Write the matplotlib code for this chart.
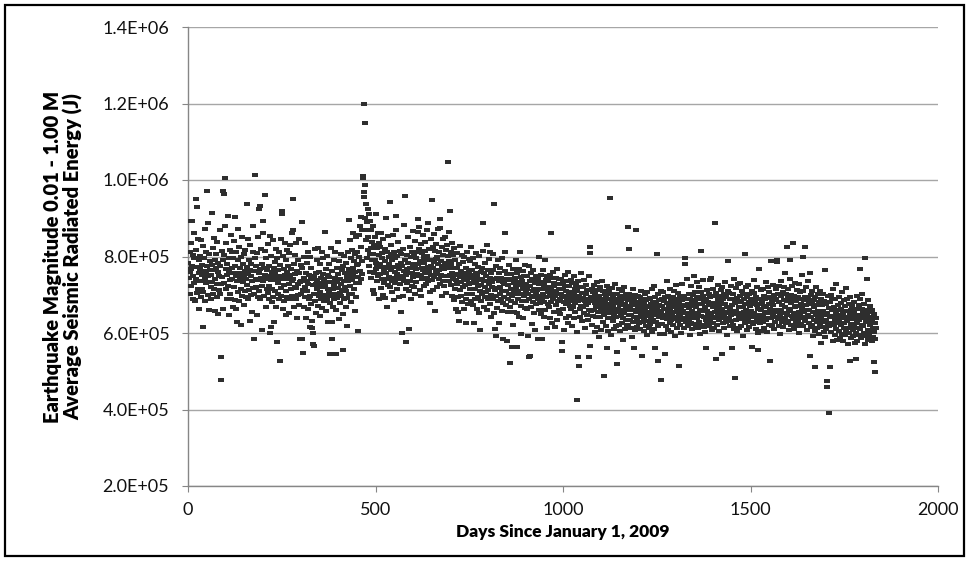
import numpy as np
import matplotlib.pyplot as plt
from matplotlib.ticker import FuncFormatter, MultipleLocator
from matplotlib.patches import Rectangle

# average radiated energy per day, in units of 1e3 J, one row ~ 30 days
energy_k = [
    782, 745, 893, 760, 812, 701, 768, 835, 722, 893, 776, 690, 805, 748, 861, 730, 795, 684, 685, 950, 742, 818, 930, 705, 772, 846, 716, 790, 663, 758,
    801, 735, 768, 842, 694, 752, 779, 716, 828, 707, 615, 763, 795, 741, 872, 684, 758, 812, 730, 971, 775, 699, 748, 887, 733, 806, 660, 764, 789, 721,
    752, 688, 913, 779, 734, 822, 703, 765, 848, 716, 791, 657, 742, 806, 771, 695, 838, 727, 760, 650, 784, 712, 749, 868, 701, 775, 536, 477, 729, 815,
    746, 790, 662, 970, 964, 731, 803, 880, 1006, 715, 768, 834, 689, 752, 781, 905, 724, 797, 646, 760, 818, 703, 739, 855, 690, 771, 742, 812, 668, 795,
    758, 721, 840, 903, 687, 776, 749, 662, 812, 630, 735, 790, 706, 872, 757, 683, 825, 741, 769, 620, 798, 715, 752, 851, 697, 780, 733, 806, 672, 744,
    763, 709, 818, 741, 695, 938, 772, 726, 845, 688, 754, 790, 712, 765, 632, 829, 748, 700, 781, 655, 736, 812, 718, 880, 584, 762, 703, 795, 1012, 741,
    720, 776, 648, 808, 739, 693, 852, 757, 710, 925, 933, 768, 688, 820, 744, 607, 781, 724, 862, 893, 735, 770, 698, 960, 752, 815, 669, 742, 797, 716,
    764, 705, 832, 748, 690, 776, 723, 854, 600, 615, 739, 801, 682, 760, 716, 843, 695, 770, 748, 630, 786, 711, 757, 668, 820, 576, 738, 795, 702, 764,
    731, 812, 689, 750, 526, 778, 718, 846, 697, 920, 910, 740, 662, 801, 725, 768, 683, 835, 752, 709, 790, 646, 760, 817, 694, 741, 775, 652, 808, 727,
    752, 690, 829, 714, 768, 736, 861, 698, 950, 870, 742, 781, 667, 720, 804, 753, 688, 835, 717, 762, 640, 790, 728, 700, 846, 756, 672, 733, 584, 779,
    736, 702, 890, 584, 770, 547, 712, 798, 668, 745, 721, 835, 693, 757, 640, 782, 709, 735, 664, 811, 727, 688, 752, 616, 800, 697, 741, 676, 769, 632,
    613, 725, 600, 570, 567, 748, 701, 819, 683, 756, 729, 652, 790, 714, 738, 671, 823, 697, 760, 722, 645, 781, 706, 743, 688, 812, 730, 665, 754, 719,
    797, 684, 741, 700, 864, 726, 768, 657, 734, 802, 690, 752, 715, 629, 780, 708, 746, 679, 545, 823, 698, 733, 628, 584, 761, 716, 669, 792, 724, 690,
    745, 812, 702, 660, 545, 771, 733, 691, 838, 718, 754, 637, 787, 705, 742, 679, 806, 727, 698, 765, 712, 649, 774, 555, 737, 802, 690, 756, 721, 667,
    783, 709, 619, 746, 692, 812, 735, 896, 768, 701, 842, 724, 757, 680, 795, 738, 816, 703, 770, 749, 862, 715, 788, 657, 807, 760, 731, 851, 694, 779,
    812, 747, 781, 604, 856, 732, 798, 880, 763, 825, 741, 902, 788, 869, 753, 1010, 1006, 968, 955, 1200, 1148, 986, 900, 937, 842, 890, 796, 870, 818, 925,
    851, 774, 912, 806, 760, 893, 822, 745, 868, 790, 837, 712, 806, 881, 758, 829, 703, 792, 850, 767, 911, 784, 735, 821, 772, 862, 748, 803, 690, 835,
    781, 754, 826, 718, 862, 795, 742, 808, 700, 773, 845, 762, 731, 819, 692, 788, 756, 901, 740, 667, 812, 770, 725, 853, 798, 746, 780, 719, 942, 807,
    764, 829, 735, 791, 708, 856, 772, 744, 811, 687, 760, 795, 732, 870, 905, 753, 716, 802, 778, 740, 838, 693, 767, 815, 749, 728, 784, 655, 806, 600,
    775, 742, 820, 698, 761, 883, 735, 790, 957, 752, 716, 577, 805, 768, 731, 850, 784, 709, 757, 610, 826, 771, 737, 798, 690, 812, 758, 723, 867, 780,
    746, 806, 719, 779, 840, 702, 768, 795, 733, 811, 754, 865, 781, 899, 878, 748, 820, 713, 787, 752, 833, 696, 771, 809, 741, 856, 765, 724, 798, 782,
    815, 756, 838, 727, 790, 868, 744, 801, 772, 887, 735, 819, 763, 708, 678, 792, 845, 751, 776, 947, 739, 826, 770, 712, 858, 786, 747, 815, 657, 793,
    762, 833, 720, 798, 754, 871, 781, 740, 812, 766, 729, 897, 875, 789, 752, 826, 697, 774, 845, 736, 805, 768, 722, 852, 783, 750, 818, 705, 779, 831,
    748, 802, 770, 1047, 735, 864, 789, 752, 919, 812, 726, 780, 698, 836, 757, 741, 803, 685, 769, 823, 716, 752, 790, 664, 738, 809, 727, 771, 693, 755,
    654, 632, 780, 712, 746, 827, 698, 763, 734, 805, 681, 752, 719, 786, 740, 662, 798, 725, 757, 690, 626, 771, 738, 812, 703, 749, 676, 793, 729, 760,
    714, 788, 745, 683, 826, 730, 766, 702, 751, 673, 796, 626, 740, 715, 780, 689, 757, 731, 809, 664, 748, 722, 695, 772, 738, 652, 801, 710, 608, 759,
    726, 683, 770, 742, 701, 814, 888, 735, 669, 757, 720, 782, 694, 748, 706, 829, 737, 660, 765, 712, 688, 794, 728, 745, 676, 812, 700, 757, 642, 733,
    721, 764, 689, 807, 740, 652, 936, 712, 610, 593, 776, 698, 743, 666, 718, 790, 684, 735, 757, 627, 702, 771, 720, 689, 745, 658, 796, 709, 734, 678,
    584, 727, 694, 761, 861, 812, 672, 709, 740, 578, 753, 688, 726, 654, 779, 701, 738, 667, 522, 715, 754, 683, 564, 742, 696, 620, 768, 709, 731, 655,
    702, 744, 679, 790, 719, 652, 758, 564, 711, 733, 690, 768, 641, 725, 811, 703, 747, 670, 598, 736, 684, 762, 715, 640, 749, 697, 723, 665, 778, 708,
    683, 729, 750, 662, 714, 701, 593, 537, 776, 690, 735, 541, 722, 668, 758, 697, 742, 623, 709, 680, 764, 716, 652, 731, 694, 608, 748, 703, 675, 739,
    712, 584, 690, 745, 661, 728, 800, 679, 716, 650, 752, 697, 734, 584, 688, 764, 703, 641, 726, 682, 790, 715, 659, 738, 693, 721, 612, 749, 676, 707,
    735, 668, 719, 696, 752, 640, 861, 713, 682, 744, 627, 701, 760, 689, 722, 655, 731, 698, 616, 745, 710, 673, 768, 635, 702, 727, 684, 740, 661, 716,
    689, 728, 650, 703, 741, 576, 554, 694, 715, 662, 733, 681, 608, 722, 697, 752, 640, 710, 676, 735, 692, 626, 759, 681, 708, 645, 724, 670, 698, 738,
    662, 706, 684, 731, 617, 695, 668, 748, 703, 640, 716, 679, 656, 725, 690, 602, 711, 424, 683, 736, 536, 514, 698, 662, 719, 641, 757, 687, 670, 704,
    631, 692, 721, 668, 705, 652, 739, 684, 612, 701, 673, 725, 648, 690, 712, 633, 679, 748, 660, 536, 567, 824, 809, 695, 658, 716, 620, 683, 707, 644,
    689, 661, 726, 603, 678, 704, 642, 697, 668, 733, 615, 686, 655, 712, 671, 589, 698, 641, 720, 663, 682, 607, 735, 654, 690, 628, 709, 488, 674, 646,
    702, 657, 681, 618, 694, 561, 668, 723, 640, 689, 606, 712, 651, 953, 675, 638, 701, 662, 594, 686, 718, 632, 667, 694, 611, 679, 649, 728, 660, 617,
    684, 641, 550, 702, 520, 663, 690, 622, 716, 655, 673, 604, 698, 645, 681, 627, 709, 660, 583, 688, 639, 719, 652, 676, 611, 693, 634, 665, 702, 618,
    659, 685, 620, 877, 648, 702, 820, 633, 670, 612, 694, 646, 679, 590, 660, 715, 628, 688, 641, 562, 673, 607, 699, 654, 870, 637, 682, 615, 664, 696,
    641, 672, 625, 694, 658, 610, 683, 647, 711, 541, 666, 629, 690, 651, 604, 677, 638, 702, 660, 619, 685, 644, 671, 596, 708, 655, 632, 689, 613, 667,
    648, 691, 623, 676, 640, 715, 657, 603, 682, 635, 668, 722, 611, 654, 560, 693, 646, 677, 628, 807, 662, 701, 619, 526, 685, 642, 673, 598, 657, 710,
    476, 651, 688, 624, 670, 706, 639, 662, 597, 684, 648, 545, 693, 617, 664, 735, 636, 679, 652, 609, 698, 641, 672, 626, 659, 716, 634, 687, 603, 668,
    649, 694, 621, 675, 641, 710, 656, 592, 683, 637, 667, 725, 614, 660, 689, 632, 704, 514, 651, 678, 620, 695, 643, 669, 601, 686, 652, 728, 635, 674,
    658, 613, 697, 640, 796, 781, 671, 628, 689, 652, 742, 617, 676, 644, 703, 633, 665, 596, 690, 648, 722, 626, 681, 657, 611, 699, 639, 671, 750, 624,
    685, 647, 706, 621, 667, 734, 640, 693, 612, 676, 653, 719, 630, 688, 598, 661, 707, 814, 644, 675, 622, 698, 657, 738, 616, 683, 642, 669, 603, 560,
    690, 634, 712, 658, 625, 681, 646, 703, 617, 672, 739, 636, 694, 651, 745, 608, 679, 641, 715, 627, 668, 697, 612, 655, 888, 676, 533, 639, 704, 662,
    621, 687, 648, 726, 633, 674, 605, 696, 657, 712, 638, 682, 545, 663, 719, 625, 690, 647, 701, 614, 676, 654, 733, 629, 693, 640, 668, 596, 710, 651,
    788, 637, 705, 662, 618, 688, 647, 724, 631, 560, 673, 702, 622, 690, 655, 741, 611, 679, 483, 658, 717, 634, 692, 649, 604, 684, 727, 640, 669, 613,
    697, 652, 730, 619, 681, 645, 711, 636, 668, 593, 702, 655, 688, 807, 627, 676, 643, 719, 661, 608, 694, 637, 725, 650, 682, 616, 703, 644, 671, 630,
    689, 658, 564, 711, 641, 677, 623, 705, 652, 738, 630, 684, 647, 694, 610, 673, 721, 637, 662, 599, 555, 768, 648, 690, 626, 675, 713, 639, 659, 604,
    681, 645, 716, 628, 670, 697, 612, 656, 688, 734, 633, 669, 602, 692, 651, 719, 640, 675, 621, 708, 662, 528, 694, 638, 788, 683, 617, 655, 726, 647,
    672, 610, 699, 643, 685, 628, 715, 661, 690, 790, 785, 637, 703, 654, 722, 619, 680, 646, 598, 696, 661, 735, 629, 674, 640, 708, 615, 687, 652, 720,
    638, 756, 669, 701, 625, 683, 824, 647, 714, 632, 692, 658, 608, 741, 790, 664, 700, 621, 679, 645, 722, 636, 688, 835, 653, 611, 697, 669, 730, 628,
    684, 642, 713, 619, 670, 693, 633, 728, 656, 601, 689, 645, 706, 624, 677, 752, 638, 665, 710, 800, 617, 687, 654, 695, 826, 631, 673, 720, 642, 661,
    609, 690, 648, 735, 627, 682, 660, 540, 756, 615, 700, 643, 676, 622, 711, 654, 593, 687, 635, 669, 604, 510, 693, 648, 721, 629, 674, 612, 658, 702,
    636, 680, 597, 711, 650, 621, 689, 640, 575, 673, 628, 702, 615, 658, 684, 603, 646, 590, 765, 633, 677, 610, 475, 652, 460, 697, 624, 390, 665, 618,
    682, 510, 641, 700, 603, 659, 627, 688, 578, 645, 715, 620, 667, 596, 690, 636, 652, 611, 729, 642, 583, 674, 626, 661, 605, 695, 634, 648, 587, 679,
    620, 663, 598, 707, 638, 651, 580, 685, 626, 612, 670, 594, 643, 718, 605, 657, 632, 689, 571, 640, 614, 676, 601, 650, 528, 694, 623, 659, 587, 636,
    670, 608, 645, 592, 681, 619, 655, 574, 637, 533, 662, 600, 697, 627, 580, 648, 614, 672, 596, 634, 689, 767, 610, 641, 586, 664, 622, 703, 593, 651,
    617, 676, 600, 639, 571, 796, 628, 660, 592, 740, 645, 609, 686, 582, 631, 655, 598, 622, 670, 587, 643, 606, 661, 579, 635, 614, 590, 650, 524, 603,
    497, 627, 585, 612, 640,
]
days = np.arange(1, len(energy_k) + 1)
energy = np.array(energy_k) * 1e3

y_ticks = [2e5, 4e5, 6e5, 8e5, 1.0e6, 1.2e6, 1.4e6]

plt.rcParams['font.family'] = ['Lato', 'DejaVu Sans']

fig = plt.figure(figsize=(9.69, 5.62), dpi=100)
ax = fig.add_axes([188/969, 1 - 486/562, 750/969, 459/562])

# dash-shaped marker like Excel
dash = [(-1, -0.5), (1, -0.5), (1, 0.5), (-1, 0.5)]
ax.plot(days, energy, linestyle='none', marker=dash, markersize=4.8,
        color='#2e2e2e', markeredgewidth=0, zorder=3)

ax.set_xlim(0, 2000)
ax.set_ylim(2e5, 1.4e6)
ax.xaxis.set_major_locator(MultipleLocator(500))
ax.set_yticks(y_ticks)
ax.yaxis.set_major_formatter(FuncFormatter(lambda v, p: f"{v:.1E}"))
ax.grid(axis='y', color='#a6a6a6', linewidth=1)
ax.set_axisbelow(True)

for s in ['top', 'right']:
    ax.spines[s].set_visible(False)
for s in ['left', 'bottom']:
    ax.spines[s].set_color('#868686')
    ax.spines[s].set_linewidth(1)
ax.tick_params(direction='out', length=4.5, color='#868686', labelsize=13,
               labelcolor='#111111')
ax.tick_params(axis='y', pad=9)
ax.tick_params(axis='x', pad=7)

ax.set_xlabel('Days Since January 1, 2009', fontsize=12.5, fontweight='heavy', labelpad=4)
ax.set_ylabel('Earthquake Magnitude 0.01 - 1.00 M\nAverage Seismic Radiated Energy (J)',
              fontsize=14.5, fontweight='heavy', labelpad=14, linespacing=1.05)

fig.patches.append(Rectangle((5/969, 6/562), 959/969, 551/562, transform=fig.transFigure,
                             fill=False, edgecolor='black', linewidth=1.6))

fig.savefig('out.png', dpi=100)
